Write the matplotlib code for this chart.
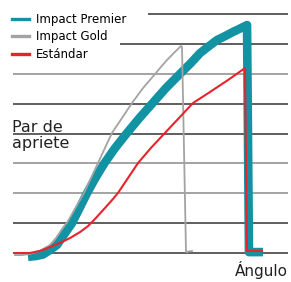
import matplotlib
matplotlib.use("Agg")
import matplotlib.pyplot as plt
from matplotlib.lines import Line2D

plt.rcParams['font.family'] = ['DejaVu Sans']

# --- data (angle in arbitrary units, torque in grid steps) ---
premier_x = [5.45, 8.36, 10.91, 13.45, 16.0, 18.6, 21.45, 24.2, 26.9, 29.9, 33.2, 37.0, 41.3,
             45.8, 50.6, 55.6, 61.1, 64.7, 68.0, 70.9, 74.2, 77.1, 80.0, 82.5, 85.1, 85.8, 90.9]
premier_y = [-0.13, -0.10, -0.05, 0.10, 0.27, 0.62, 1.0, 1.5, 2.0, 2.5, 3.0, 3.5, 4.0,
             4.5, 5.0, 5.52, 6.03, 6.36, 6.69, 6.90, 7.13, 7.26, 7.40, 7.51, 7.63, 0.03, 0.03]

gold_x = [0.73, 3.27, 6.18, 9.82, 13.45, 15.64, 17.82, 20.0, 22.91, 25.82, 28.36, 30.91, 33.45,
          36.0, 39.64, 43.27, 47.27, 51.64, 53.82, 56.0, 58.55, 61.09, 61.45, 62.91, 65.09]
gold_y = [-0.07, -0.07, -0.03, 0.07, 0.27, 0.50, 0.80, 1.07, 1.54, 2.01, 2.51, 3.01, 3.52,
          4.02, 4.52, 5.02, 5.52, 5.99, 6.23, 6.46, 6.70, 6.93, 6.90, 0.03, 0.07]

std_x = [0.73, 6.18, 9.82, 13.45, 17.09, 20.73, 24.36, 27.27, 29.82, 33.09, 36.0, 38.18, 41.82,
         45.45, 50.18, 55.27, 60.36, 65.45, 71.64, 78.18, 84.36, 85.09, 90.55]
std_y = [0.0, 0.0, 0.07, 0.20, 0.34, 0.50, 0.70, 0.90, 1.14, 1.47, 1.77, 2.01, 2.51,
         3.01, 3.52, 4.02, 4.52, 5.02, 5.39, 5.79, 6.19, 0.07, 0.07]

grid_levels = [0, 1, 2, 3, 4, 5, 6, 7, 8]
grid_start = [0, 0, 0, 0, 0, 0, 0, 39, 49]
grid_colors = ['#333333', '#333333', '#8a8a8a', '#8a8a8a', '#333333', '#333333', '#8a8a8a', '#333333', '#333333']

labels = ['Impact Premier', 'Impact Gold', 'Estándar']
TEAL = '#1193a4'
GRAY = '#a3a3a3'
RED = '#e8232b'

fig = plt.figure(figsize=(2.91, 2.82), dpi=100)
ax = fig.add_axes([0, 0, 1, 1])
ax.set_xlim(-4.727, 101.09)
ax.set_ylim(-0.971, 8.469)
ax.axis('off')

for lvl, x0, c in zip(grid_levels, grid_start, grid_colors):
    ax.hlines(lvl, x0, 100, colors=c, linewidth=1.1, zorder=1)

ax.plot(premier_x, premier_y, color=TEAL, linewidth=6.2,
        solid_joinstyle='round', solid_capstyle='butt', zorder=2)
ax.plot(gold_x, gold_y, color=GRAY, linewidth=1.3, solid_joinstyle='round', zorder=3)
ax.plot(std_x, std_y, color=RED, linewidth=1.5, solid_joinstyle='round', zorder=4)

handles = [Line2D([], [], color=TEAL, linewidth=2.4),
           Line2D([], [], color=GRAY, linewidth=2.4),
           Line2D([], [], color=RED, linewidth=2.4)]
fig.legend(handles, labels, loc='upper left', bbox_to_anchor=(12 / 291, 1 - 13 / 282),
           frameon=False, fontsize=8.5, handlelength=1.4, handletextpad=0.6,
           labelspacing=0.38, borderpad=0, borderaxespad=0)

ax.text(12 / 291, 1 - 120 / 282, 'Par de\napriete', transform=ax.transAxes,
        ha='left', va='top', fontsize=11.5, linespacing=1.08, color='#222222')
ax.text(235 / 291, 1 - 261 / 282, 'Ángulo', transform=ax.transAxes,
        ha='left', va='top', fontsize=11, color='#222222')

fig.savefig('out.png', dpi=100)
